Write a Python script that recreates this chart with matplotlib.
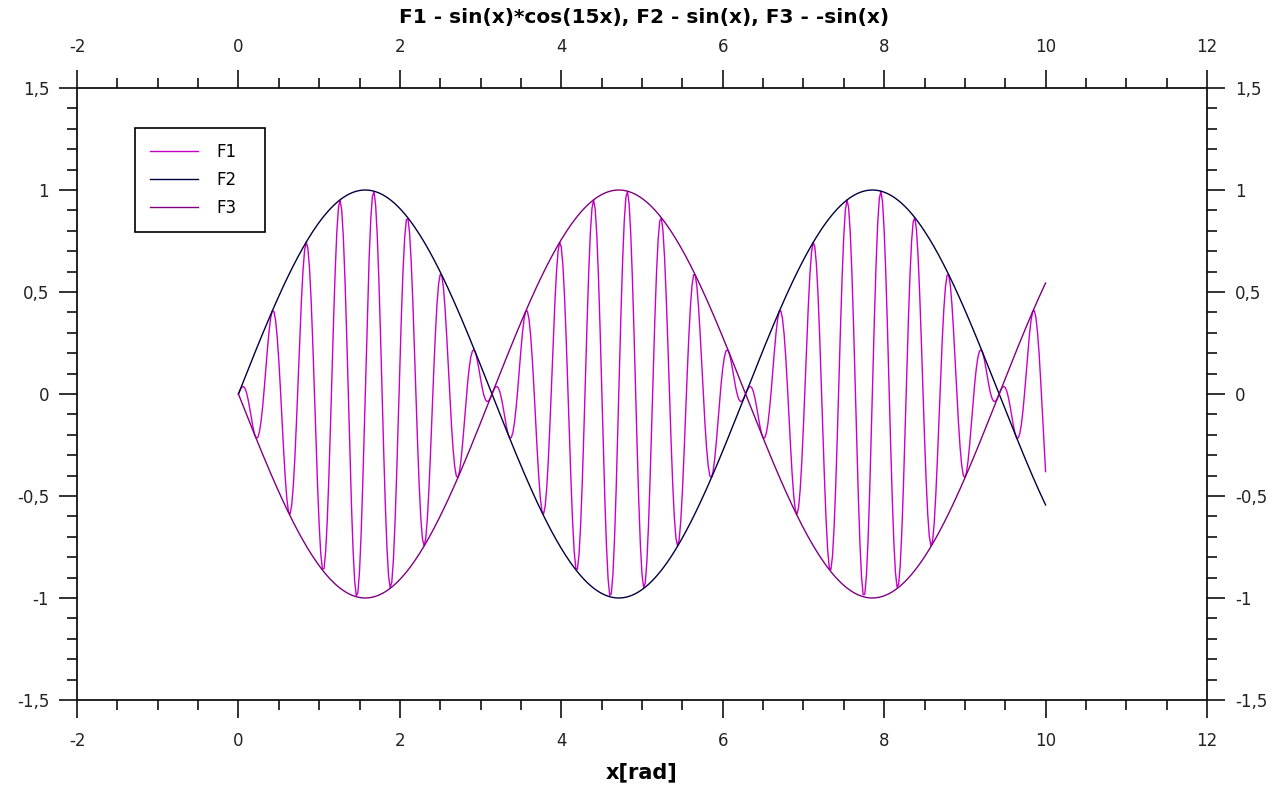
import numpy as np
import matplotlib
matplotlib.use("Agg")
import matplotlib.pyplot as plt
from matplotlib.ticker import MultipleLocator, FuncFormatter

# x range in radians, as given on the chart
x_start = 0.0
x_stop = 10.0
n_points = 501
freq = 15  # cos(15x) carrier

series_names = ["F1", "F2", "F3"]
series_colors = ["#c800c8", "#000040", "#800080"]

x = np.linspace(x_start, x_stop, n_points)
f1 = np.sin(x) * np.cos(freq * x)
f2 = np.sin(x)
f3 = -np.sin(x)

plt.rcParams['font.family'] = ['DejaVu Sans']

fig = plt.figure(figsize=(12.88, 7.87), dpi=100)
ax = fig.add_axes([77 / 1288, 87 / 787, 1130 / 1288, 612 / 787])

for y, name, col in zip([f1, f2, f3], series_names, series_colors):
    ax.plot(x, y, color=col, lw=1.0, label=name)

ax.set_xlim(-2, 12)
ax.set_ylim(-1.5, 1.5)

# comma as decimal separator, plain hyphen for minus
comma = FuncFormatter(lambda v, pos: ('%g' % round(v, 3)).replace('.', ','))
ax.xaxis.set_major_locator(MultipleLocator(2))
ax.xaxis.set_minor_locator(MultipleLocator(0.5))
ax.yaxis.set_major_locator(MultipleLocator(0.5))
ax.yaxis.set_minor_locator(MultipleLocator(0.1))
ax.xaxis.set_major_formatter(comma)
ax.yaxis.set_major_formatter(comma)

ax.tick_params(which='both', direction='out', top=True, right=True,
               labeltop=True, labelright=True, width=1.2, color='#111111',
               labelsize=12, labelcolor='#222222')
ax.tick_params(which='major', length=13, pad=7)
ax.tick_params(which='minor', length=7)
ax.tick_params(axis='x', which='major', pad=10)
for sp in ax.spines.values():
    sp.set_linewidth(1.3)
    sp.set_color('#111111')

ax.set_xlabel("x[rad]", fontsize=15, fontweight='bold', labelpad=9)
fig.suptitle("F1 - sin(x)*cos(15x), F2 - sin(x), F3 - -sin(x)",
             fontsize=14.5, fontweight='bold', y=1 - 18 / 787, va='center')

# legend frame stretched to a fixed width
leg_top = 572 / 612
leg = ax.legend(loc='upper left', mode='expand',
                bbox_to_anchor=(58 / 1130, leg_top - 0.01, 130 / 1130, 0.01),
                borderaxespad=0, fontsize=12, handlelength=2.9,
                handletextpad=1.1, labelspacing=0.6, borderpad=0.9,
                fancybox=False, framealpha=1, edgecolor='black')
leg.get_frame().set_linewidth(1.2)

fig.savefig("out.png", dpi=100)
